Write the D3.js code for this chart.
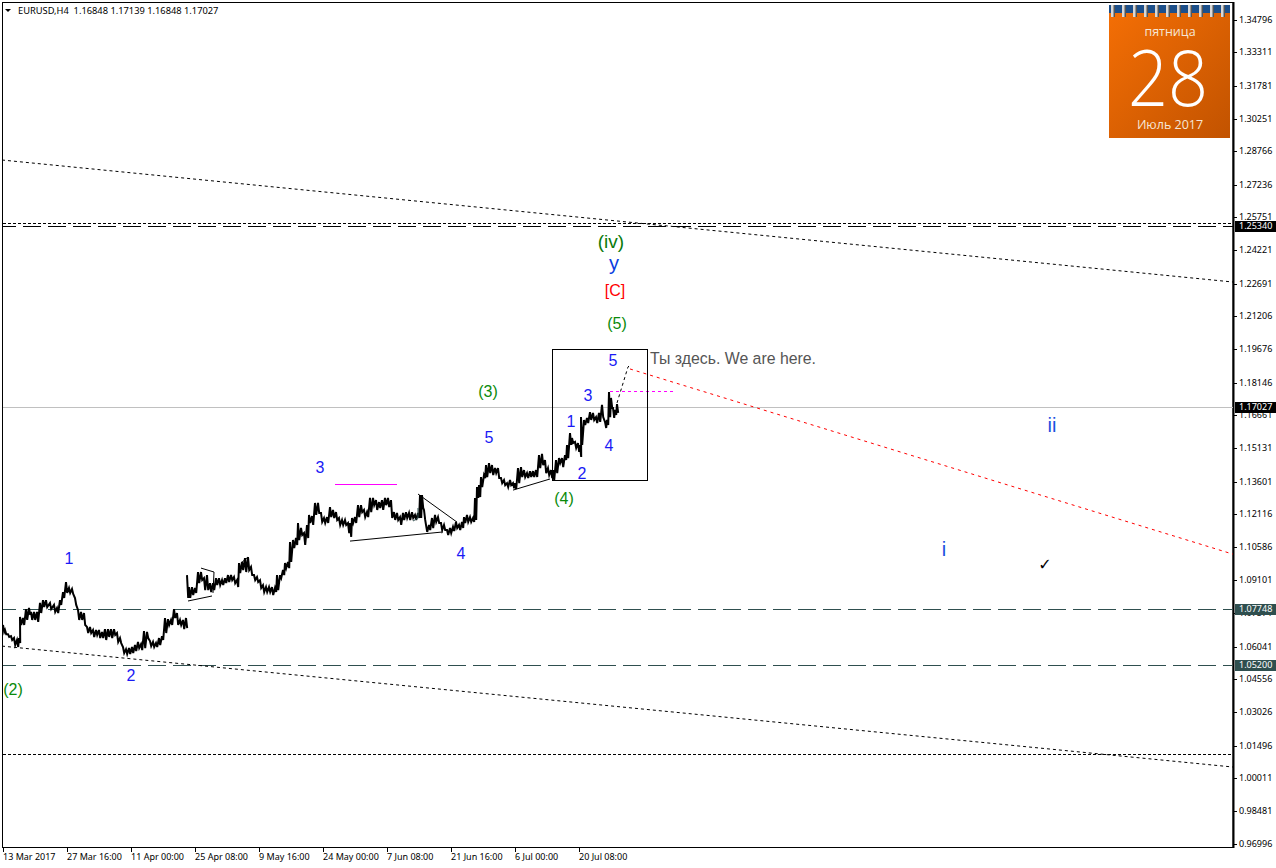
<!DOCTYPE html>
<html><head><meta charset="utf-8">
<script src="https://cdn.jsdelivr.net/npm/d3@7"></script>
<style>html,body{margin:0;padding:0;background:#fff}svg{display:block}</style>
</head><body><svg id="c" width="1276" height="868"></svg>
<script>
const symbolHeader = "EURUSD,H4  1.16848 1.17139 1.16848 1.17027";
const priceTicks = [1.34796,1.33311,1.31781,1.30251,1.28766,1.27236,1.25751,1.24221,1.22691,1.21206,1.19676,1.18146,1.16661,1.15131,1.13601,1.12116,1.10586,1.09101,1.07571,1.06041,1.04556,1.03026,1.01496,1.00011,0.98481,0.96996];
const timeTickBars = [0,64,128,192,256,320,384,448,512,576];
const timeTickLabels = ["13 Mar 2017","27 Mar 16:00","11 Apr 00:00","25 Apr 08:00","9 May 16:00","24 May 00:00","7 Jun 08:00","21 Jun 16:00","6 Jul 00:00","20 Jul 08:00"];

const sampleX = [3,5,8,11,14,17,19,20,23,26,29,31,34,37,40,43,46,50,54,57,60,63,66,69,72,75,78,81,84,87,90,93,96,99,102,105,108,111,114,117,120,123,126,129,132,135,138,141,144,147,150,153,156,159,162,165,168,171,174,177,180,183,186,
187,189,192,195,198,201,204,207,210,213,216,219,222,225,228,231,234,237,239,242,245,248,251,254,257,260,263,266,269,272,275,277,280,283,285,288,290,293,296,298,301,304,307,309,312,315,318,321,324,327,330,333,336,339,342,345,348,350,352,355,358,361,364,367,370,373,376,379,382,385,388,391,394,397,400,403,406,409,412,415,418,420,422,424,426,429,432,435,438,441,444,447,450,453,456,459,462,464,467,470,473,475,477,479,481,484,486,489,492,495,498,501,504,507,510,513,515,518,521,524,527,530,533,536,539,542,545,548,551,553,556,559,562,565,567,570,572,575,578,580,581,584,587,590,593,596,599,602,605,607,609,611,613,615,617];
const highs = [1.0703,1.0680,1.0661,1.0652,1.0643,1.0634,1.0643,1.0740,1.0735,1.0776,1.0781,1.0763,1.0763,1.0763,1.0804,1.0817,1.0817,1.0804,1.0795,1.0781,1.0817,1.0854,1.0900,1.0873,1.0868,1.0827,1.0772,1.0763,1.0758,1.0694,1.0694,1.0680,1.0680,1.0680,1.0671,1.0684,1.0684,1.0684,1.0684,1.0666,1.0643,1.0602,1.0592,1.0597,1.0602,1.0611,1.0625,1.0615,1.0675,1.0671,1.0629,1.0625,1.0620,1.0643,1.0652,1.0735,1.0730,1.0726,1.0776,1.0758,1.0726,1.0726,1.0735,
1.0932,1.0877,1.0877,1.0873,1.0946,1.0946,1.0918,1.0932,1.0895,1.0895,1.0918,1.0918,1.0909,1.0918,1.0932,1.0932,1.0923,1.0909,1.0987,1.0992,1.1010,1.1015,1.0969,1.0932,1.0923,1.0909,1.0886,1.0877,1.0877,1.0877,1.0873,1.0932,1.0932,1.0955,1.0987,1.0992,1.1084,1.1093,1.1102,1.1171,1.1148,1.1125,1.1162,1.1208,1.1203,1.1263,1.1263,1.1217,1.1194,1.1198,1.1244,1.1231,1.1221,1.1194,1.1185,1.1185,1.1171,1.1171,1.1194,1.1198,1.1253,1.1253,1.1231,1.1221,1.1286,1.1286,1.1276,1.1267,1.1276,1.1286,1.1286,1.1276,1.1221,1.1217,1.1198,1.1217,1.1221,1.1217,1.1221,1.1208,1.1217,1.1299,1.1299,1.1231,1.1162,1.1162,1.1194,1.1208,1.1198,1.1171,1.1162,1.1139,1.1148,1.1153,1.1176,1.1162,1.1176,1.1198,1.1208,1.1198,1.1194,1.1286,1.1336,1.1345,1.1382,1.1391,1.1437,1.1446,1.1437,1.1423,1.1423,1.1377,1.1368,1.1354,1.1368,1.1354,1.1354,1.1423,1.1428,1.1414,1.1400,1.1409,1.1409,1.1414,1.1483,1.1488,1.1460,1.1423,1.1414,1.1414,1.1460,1.1469,1.1469,1.1483,1.1529,1.1584,1.1561,1.1543,1.1538,1.1529,1.1657,1.1644,1.1653,1.1680,1.1676,1.1657,1.1676,1.1713,1.1635,1.1644,1.1772,1.1745,1.1699,1.1690,1.1717];
const lows = [1.0671,1.0661,1.0648,1.0634,1.0611,1.0602,1.0620,1.0703,1.0703,1.0726,1.0749,1.0726,1.0726,1.0717,1.0758,1.0785,1.0785,1.0776,1.0763,1.0758,1.0795,1.0827,1.0850,1.0850,1.0845,1.0795,1.0726,1.0726,1.0703,1.0666,1.0666,1.0648,1.0657,1.0643,1.0643,1.0634,1.0648,1.0643,1.0657,1.0625,1.0620,1.0574,1.0570,1.0570,1.0574,1.0583,1.0597,1.0588,1.0597,1.0643,1.0606,1.0602,1.0602,1.0611,1.0634,1.0666,1.0703,1.0703,1.0735,1.0703,1.0703,1.0684,1.0689,
1.0827,1.0827,1.0840,1.0850,1.0895,1.0909,1.0863,1.0863,1.0854,1.0863,1.0886,1.0886,1.0886,1.0895,1.0900,1.0909,1.0895,1.0877,1.0941,1.0955,1.0946,1.0955,1.0932,1.0909,1.0900,1.0873,1.0854,1.0854,1.0854,1.0840,1.0854,1.0863,1.0918,1.0932,1.0964,1.0964,1.0992,1.1056,1.1070,1.1093,1.1116,1.1070,1.1102,1.1171,1.1162,1.1208,1.1217,1.1176,1.1171,1.1171,1.1198,1.1194,1.1185,1.1162,1.1162,1.1162,1.1125,1.1107,1.1171,1.1171,1.1198,1.1221,1.1198,1.1198,1.1221,1.1253,1.1231,1.1240,1.1231,1.1253,1.1244,1.1194,1.1185,1.1185,1.1162,1.1185,1.1194,1.1185,1.1194,1.1185,1.1194,1.1194,1.1240,1.1185,1.1130,1.1139,1.1148,1.1176,1.1171,1.1139,1.1139,1.1116,1.1125,1.1134,1.1148,1.1139,1.1148,1.1171,1.1176,1.1176,1.1176,1.1185,1.1286,1.1290,1.1336,1.1377,1.1382,1.1400,1.1391,1.1400,1.1377,1.1354,1.1345,1.1336,1.1345,1.1331,1.1327,1.1354,1.1382,1.1382,1.1377,1.1382,1.1382,1.1382,1.1423,1.1437,1.1400,1.1391,1.1377,1.1368,1.1400,1.1446,1.1428,1.1460,1.1469,1.1529,1.1538,1.1515,1.1497,1.1474,1.1529,1.1621,1.1630,1.1644,1.1644,1.1630,1.1635,1.1657,1.1607,1.1621,1.1657,1.1699,1.1653,1.1667,1.1676];
const gapAfterSample = 62; // chart break between the first block and the next block

const longDashLevels = [1.25340,1.07748,1.05200];
const levelBoxes = [[1.25340,"#000000"],[1.17027,"#000000"],[1.07748,"#2f4f4f"],[1.05200,"#2f4f4f"]];
const bidLevel = 1.17027;
const shortDashLevels = [1.2548,1.0111];
const dottedTrends = [[[-1,1.2837],[1230,1.2277]],[[-1,1.0606],[1230,1.0051]]];
const forecastBlack = [[614,1.1722],[625,1.1887],[628,1.1901]];
const forecastRed = [[627,1.1878],[1230,1.1028]];
const magentaSolid = [[332,1.1350],[394,1.1350]];
const magentaDash = [[607,1.1774],[673,1.1774]];
const thinLines = [
 [[185,1.0813],[209,1.0836]],
 [[198,1.0964],[211,1.0946],[210,1.0850]],
 [[238,1.0987],[245,1.1015]],
 [[347,1.1088],[440,1.1130]],
 [[415,1.1304],[454,1.1175]],
 [[510,1.1322],[547,1.1373]]];
const slateLine = [[410,1.1180],[415,1.1194],[415,1.1240]];
const box = [549,644,1.1970,1.1368];
const blueLabels = [["1",66,1.1010],["2",128,1.0473],["3",317,1.1428],["4",458,1.1033],["5",486,1.1566],["1",568,1.1639],["2",579,1.1400],["3",585,1.1758],["4",606,1.1529],["5",610,1.1919]];
const greenLabels = [["(2)",10,1.0409],["(3)",485,1.1777],["(4)",561,1.1286],["(5)",614,1.2089]];
const redLabels = [["[C]",612,1.2240]];
const bigBlue = [["y",611,1.2369]];
const bigGreen = [["(iv)",608,1.2465]];
const royalLabels = [["ii",1049,1.1625],["i",941,1.1056]];
const checkMark = ["\u2713",1042,1.0983];
const note = ["Ты здесь. We are here.",647,1.1928];
const calendarTexts = ["пятница","28","Июль 2017"];

const svg = d3.select("#c");
const x = d3.scaleLinear().domain([0,1230]).range([3,1233]);
const y = d3.scaleLinear().domain([1.34796,0.96996]).range([20,843.6]);
const axisFont = "'Noto Sans',sans-serif", waveFont = "'Liberation Sans',Arial,sans-serif";

// frame
svg.append("rect").attr("x",2.5).attr("y",2.5).attr("width",1230.5).attr("height",845).attr("fill","#fff").attr("stroke","#000");
svg.append("line").attr("x1",1233.5).attr("x2",1233.5).attr("y1",2).attr("y2",848).attr("stroke","#000").attr("stroke-width",2);

const ln = d3.line().x(d=>x(d[0])).y(d=>y(d[1]));
const plot = svg.append("g");
function path(pts,color,w,dash,crisp){return plot.append("path").attr("d",ln(pts)).attr("fill","none").attr("stroke",color).attr("stroke-width",w).attr("stroke-dasharray",dash||null).attr("shape-rendering",crisp?"crispEdges":null);}
function hline(p,color,w,dash,off){const v=Math.round(y(p))+.5;plot.append("line").attr("x1",3).attr("x2",1233).attr("y1",v).attr("y2",v).attr("stroke",color).attr("stroke-width",w).attr("stroke-dasharray",dash||null).attr("stroke-dashoffset",off||0);}

hline(bidLevel,"#c0c0c0",1);
longDashLevels.forEach((p,i)=>hline(p,i==0?"#000":"#2f4f4f",1.1,"18 7",5));
shortDashLevels.forEach(p=>hline(p,"#000",1,"3 2"));
dottedTrends.forEach(t=>path(t,"#000",1,"3 3"));

// price samples as a jagged high/low line
const zig=[];
sampleX.forEach((sx,i)=>{
  const b=sx-3;
  zig.push([b,highs[i]]); zig.push([b+1.2,lows[i]]);
  if(i==gapAfterSample) zig.push(null);
});
const zigLine=d3.line().defined(d=>d!==null).x(d=>x(d[0])).y(d=>y(d[1]));
plot.append("path").attr("d",zigLine(zig)).attr("fill","none").attr("stroke","#000").attr("stroke-width",2);

thinLines.forEach(t=>path(t,"#000",1));
path(slateLine,"#2f4f4f",1);
path(magentaSolid,"#ff00ff",1,null,true);
path(magentaDash,"#ff00ff",1,"3 3",true);
path(forecastBlack,"#000",1,"3 3");
path(forecastRed,"#ff0000",1,"3 4");
plot.append("rect").attr("x",Math.round(x(box[0]))+.5).attr("y",Math.round(y(box[2]))+.5).attr("width",Math.round(x(box[1])-x(box[0]))).attr("height",Math.round(y(box[3])-y(box[2]))).attr("fill","none").attr("stroke","#000");

function labels(arr,color,size){
  plot.selectAll(null).data(arr).join("text").text(d=>d[0]).attr("x",d=>x(d[1])).attr("y",d=>y(d[2])+.6)
   .attr("dy","0.35em").attr("text-anchor","middle").attr("fill",color).attr("font-family",waveFont).attr("font-size",size);
}
labels(blueLabels,"#1a1af5",16);
labels(greenLabels,"#0a8a0a",16);
labels(redLabels,"#ff0000",16);
labels(bigBlue,"#0a3de0",20);
labels(bigGreen,"#0a7a0a",19);
labels(royalLabels,"#1a50e0",20);
plot.append("text").text(checkMark[0]).attr("x",x(checkMark[1])).attr("y",y(checkMark[2])).attr("dy","0.35em").attr("text-anchor","middle").attr("font-family","'DejaVu Sans'").attr("font-size",16).attr("font-weight","bold").attr("fill","#000");
plot.append("text").text(note[0]).attr("x",x(note[1])).attr("y",y(note[2])+.6).attr("dy","0.35em").attr("fill","#555").attr("font-family",waveFont).attr("font-size",15.85);

// right axis
const ax = svg.append("g").attr("font-family",axisFont).attr("font-size",9).attr("fill","#000");
ax.selectAll("g").data(priceTicks).join("g").attr("transform",d=>`translate(0,${Math.round(y(d))})`).each(function(d){
  const g=d3.select(this);
  g.append("line").attr("x1",1234).attr("x2",1237).attr("y1",.5).attr("y2",.5).attr("stroke","#000");
  g.append("text").attr("x",1239).attr("dy","0.35em").text(d.toFixed(5));
});
svg.selectAll(null).data(levelBoxes).join("g").attr("transform",d=>`translate(0,${Math.round(y(d[0]))})`).each(function(d){
  const g=d3.select(this);
  g.append("rect").attr("x",1235).attr("y",-5).attr("width",41).attr("height",11).attr("fill",d[1]);
  g.append("text").attr("x",1239).attr("dy","0.35em").attr("fill","#fff").attr("font-family",axisFont).attr("font-size",9).text(d[0].toFixed(5));
});

// time axis
const tx = svg.append("g").attr("font-family",axisFont).attr("font-size",9).attr("fill","#000");
timeTickBars.forEach((b,i)=>{
  const px=Math.round(x(b))+.5;
  tx.append("line").attr("x1",px).attr("x2",px).attr("y1",848).attr("y2",852).attr("stroke","#000");
  tx.append("text").attr("x",x(b)).attr("y",859.5).text(timeTickLabels[i]);
});

// header
svg.append("path").attr("d",d3.line()([[5,9],[11,9],[8,12]])+"Z").attr("fill","#000");
svg.append("text").attr("x",18).attr("y",13.5).attr("font-family",axisFont).attr("font-size",9.3).style("white-space","pre").text(symbolHeader);

// calendar
const defs=svg.append("defs");
const gr=defs.append("linearGradient").attr("id","cal").attr("x1",0).attr("y1",0).attr("x2",1).attr("y2",1);
gr.append("stop").attr("offset",0).attr("stop-color","#f56f05");
gr.append("stop").attr("offset",1).attr("stop-color","#c25300");
const cal=svg.append("g");
cal.append("rect").attr("x",1109).attr("y",5).attr("width",121).attr("height",133).attr("fill","url(#cal)");
cal.append("rect").attr("x",1109).attr("y",5).attr("width",121).attr("height",8).attr("fill","#1c4f8a");
d3.range(0,11).forEach(i=>{
  const rx=1111+i*11;
  cal.append("rect").attr("x",rx).attr("y",5).attr("width",4).attr("height",12).attr("fill","#d8d8d8");
  cal.append("rect").attr("x",rx+2.5).attr("y",5).attr("width",1.5).attr("height",12).attr("fill","#555");
});
const ct=(t,yy,s,w)=>cal.append("text").text(t).attr("x",1170).attr("y",yy).attr("text-anchor","middle").attr("fill","#fff").attr("font-family","'Open Sans','Noto Sans',sans-serif").attr("font-size",s).attr("font-weight",w);
ct(calendarTexts[0],36,12.5,400).attr("fill","#f6e6d6");
ct(calendarTexts[1],106,78,300).attr("transform","translate(1168,0) scale(0.9,1) translate(-1170,0)");
ct(calendarTexts[2],129,12.5,400).attr("fill","#f6e6d6");
</script></body></html>
